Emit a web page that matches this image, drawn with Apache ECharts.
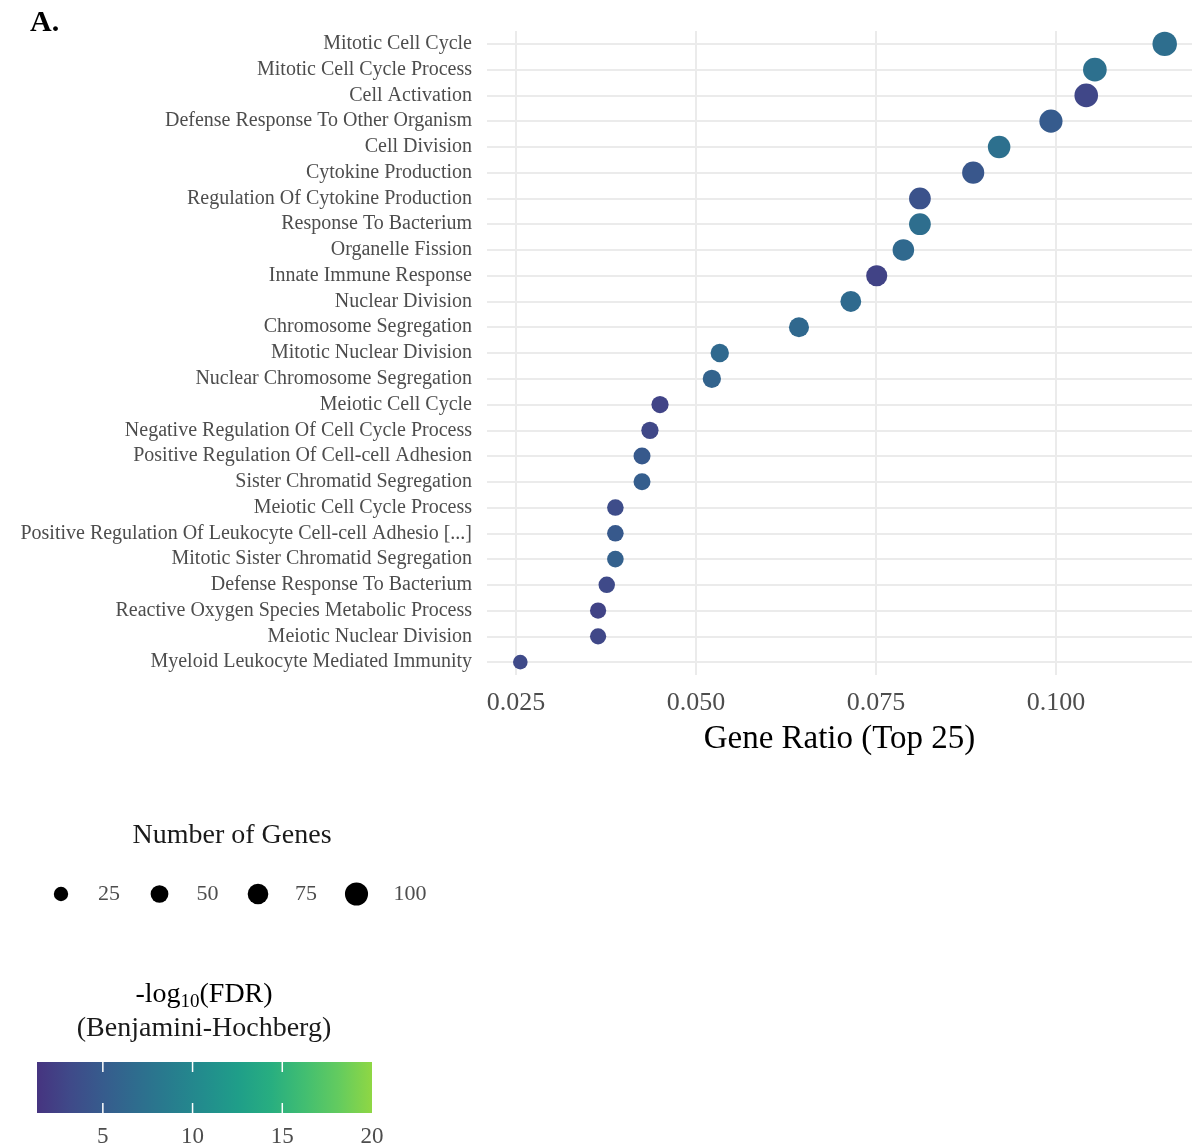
<!DOCTYPE html>
<html>
<head>
<meta charset="utf-8">
<script src="https://cdn.jsdelivr.net/npm/echarts@6/dist/echarts.min.js"></script>
<style>
  html, body { margin: 0; padding: 0; background: #fff; }
  #chart { width: 1192px; height: 1148px; }
</style>
</head>
<body>
<div id="chart"></div>
<script>
// GO terms, top to bottom
const terms = [
  'Mitotic Cell Cycle',
  'Mitotic Cell Cycle Process',
  'Cell Activation',
  'Defense Response To Other Organism',
  'Cell Division',
  'Cytokine Production',
  'Regulation Of Cytokine Production',
  'Response To Bacterium',
  'Organelle Fission',
  'Innate Immune Response',
  'Nuclear Division',
  'Chromosome Segregation',
  'Mitotic Nuclear Division',
  'Nuclear Chromosome Segregation',
  'Meiotic Cell Cycle',
  'Negative Regulation Of Cell Cycle Process',
  'Positive Regulation Of Cell-cell Adhesion',
  'Sister Chromatid Segregation',
  'Meiotic Cell Cycle Process',
  'Positive Regulation Of Leukocyte Cell-cell Adhesio [...]',
  'Mitotic Sister Chromatid Segregation',
  'Defense Response To Bacterium',
  'Reactive Oxygen Species Metabolic Process',
  'Meiotic Nuclear Division',
  'Myeloid Leukocyte Mediated Immunity'
];
const geneRatio = [0.1151, 0.1054, 0.1042, 0.0993, 0.0921, 0.0885, 0.0811, 0.0811, 0.0788, 0.0751,
  0.0715, 0.0643, 0.0533, 0.0522, 0.0450, 0.0436, 0.0425, 0.0425, 0.0388, 0.0388,
  0.0388, 0.0376, 0.0364, 0.0364, 0.0256];
const geneCount = [115, 106, 105, 100, 94, 90, 86, 86, 84, 80,
  77, 70, 55, 54, 46, 46, 44, 44, 41, 41,
  41, 40, 38, 38, 27];
const negLogFdr = [7.0, 7.3, 2.9, 5.0, 7.3, 4.5, 4.0, 7.0, 6.5, 2.6,
  6.6, 6.4, 6.5, 5.8, 2.7, 3.0, 4.8, 5.3, 3.5, 4.8,
  5.6, 3.2, 2.6, 3.0, 3.2];

const xTicks = [0.025, 0.05, 0.075, 0.1];
const sizeBreaks = [25, 50, 75, 100];
const colorTicks = [5, 10, 15, 20];
const colorMin = 1.33, colorMax = 20;
// viridis slice used by the colour scale
const viridis = ['#463480', '#3f4a89', '#365c8d', '#2e6d8e', '#277d8e', '#228d8d',
  '#1f9e89', '#28ae80', '#42be71', '#63cb5f', '#8fd744'];

const FONT = 'Liberation Serif';

// point diameter from gene count (area grows linearly)
function sizeOf(n) {
  return Math.sqrt(96 + 4.38 * n);
}

const points = terms.map((t, i) => [geneRatio[i], t, geneCount[i], negLogFdr[i]]);

const chart = echarts.init(document.getElementById('chart'));

// size legend
const sizeLegend = [];
sizeBreaks.forEach((b, i) => {
  const cx = 61 + i * 98.5;
  sizeLegend.push({
    type: 'circle', shape: { cx: cx, cy: 894, r: sizeOf(b) / 2 },
    style: { fill: '#000' }
  });
  sizeLegend.push({
    type: 'text', x: cx + 37, y: 894,
    style: { text: String(b), font: '22px ' + FONT, fill: '#4d4d4d', verticalAlign: 'middle' }
  });
});

// colour bar
const barX = 37, barY = 1062, barW = 335, barH = 51;
const colorBar = [{
  type: 'rect', shape: { x: barX, y: barY, width: barW, height: barH },
  style: {
    fill: new echarts.graphic.LinearGradient(0, 0, 1, 0,
      viridis.map((c, i) => ({ offset: i / (viridis.length - 1), color: c })))
  }
}];
colorTicks.forEach(v => {
  const x = barX + (v - colorMin) / (colorMax - colorMin) * barW;
  if (v < colorMax) {
    colorBar.push({ type: 'line', shape: { x1: x, y1: barY, x2: x, y2: barY + 10 },
      style: { stroke: '#fff', lineWidth: 1.5 } });
    colorBar.push({ type: 'line', shape: { x1: x, y1: barY + barH - 10, x2: x, y2: barY + barH },
      style: { stroke: '#fff', lineWidth: 1.5 } });
  }
  colorBar.push({
    type: 'text', x: x, y: 1137,
    style: { text: String(v), font: '23px ' + FONT, fill: '#4d4d4d', align: 'center', verticalAlign: 'middle' }
  });
});

const option = {
  backgroundColor: '#fff',
  grid: { left: 487, right: 0, top: 31, height: 644 },
  xAxis: {
    type: 'value',
    min: 0.02097,
    max: 0.11889,
    name: 'Gene Ratio (Top 25)',
    nameLocation: 'middle',
    nameGap: 48,
    nameTextStyle: { fontFamily: FONT, fontSize: 33, color: '#000' },
    axisLine: { show: false },
    axisTick: { show: false },
    splitLine: { show: false },
    axisLabel: {
      customValues: xTicks,
      formatter: v => v.toFixed(3),
      fontFamily: FONT, fontSize: 26, color: '#4d4d4d', margin: 15
    }
  },
  yAxis: {
    type: 'category',
    data: terms,
    inverse: true,
    boundaryGap: true,
    axisLine: { show: false },
    axisTick: { show: false },
    splitLine: { show: false },
    axisLabel: { interval: 0, fontFamily: FONT, fontSize: 20, color: '#4d4d4d', margin: 15 }
  },
  visualMap: {
    show: false,
    type: 'continuous',
    seriesIndex: 0,
    dimension: 3,
    min: colorMin,
    max: colorMax,
    inRange: { color: viridis }
  },
  series: [{
    type: 'scatter',
    z: 3,
    data: points,
    symbolSize: v => sizeOf(v[2]),
    itemStyle: { opacity: 1 },
    markLine: {
      z: 1,
      silent: true,
      precision: 6,
      symbol: 'none',
      label: { show: false },
      lineStyle: { type: 'solid', color: '#ebebeb', width: 2 },
      data: xTicks.map(v => ({ xAxis: v })).concat(terms.map(t => ({ yAxis: t })))
    }
  }],
  graphic: [
    { type: 'text', x: 30, y: 23,
      style: { text: 'A.', font: 'bold 30px ' + FONT, fill: '#000', verticalAlign: 'middle' } },
    { type: 'text', x: 232, y: 836,
      style: { text: 'Number of Genes', font: '28px ' + FONT, fill: '#1a1a1a', align: 'center', verticalAlign: 'middle' } },
    { type: 'text', x: 204, y: 995,
      style: {
        text: '{n|-log}{s|10}{n|(FDR)}',
        align: 'center', verticalAlign: 'middle',
        rich: {
          n: { fontFamily: FONT, fontSize: 28, color: '#1a1a1a', lineHeight: 34 },
          s: { fontFamily: FONT, fontSize: 19, color: '#1a1a1a', lineHeight: 19, verticalAlign: 'bottom' }
        }
      } },
    { type: 'text', x: 204, y: 1029,
      style: { text: '(Benjamini-Hochberg)', font: '28px ' + FONT, fill: '#1a1a1a', align: 'center', verticalAlign: 'middle' } }
  ].concat(sizeLegend, colorBar)
};

chart.setOption(option);
</script>
</body>
</html>
